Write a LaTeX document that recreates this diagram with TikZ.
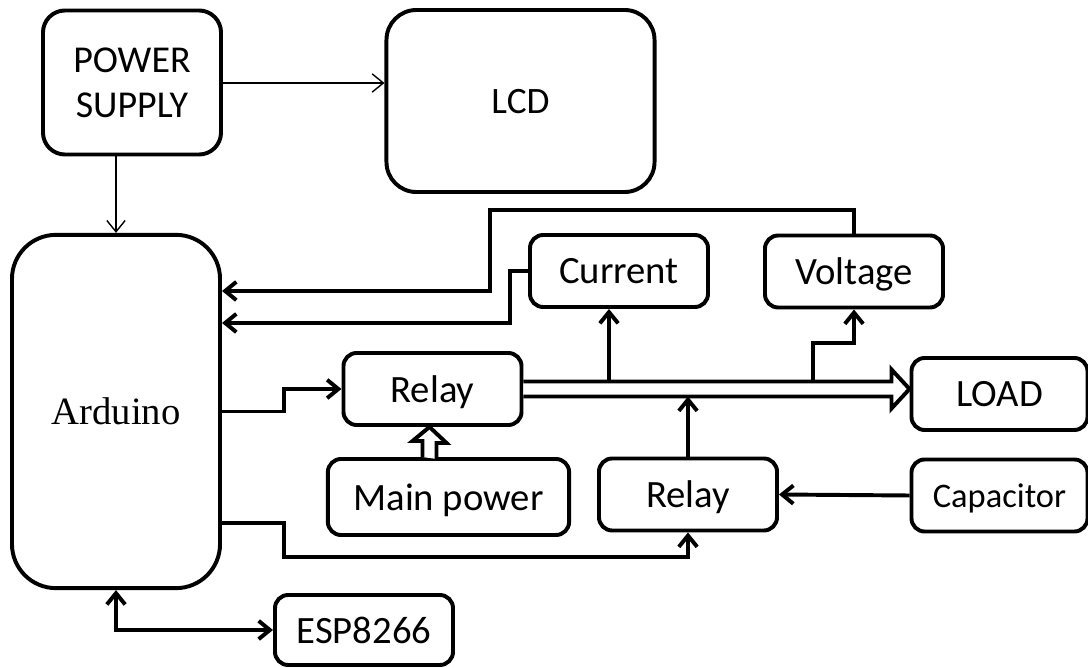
\documentclass[tikz,border=0pt]{standalone}
\usepackage{fontspec}
\setmainfont{Carlito}
\newfontfamily\serifblock{Liberation Serif}
\usetikzlibrary{arrows.meta,positioning,calc}

\begin{document}
\begin{tikzpicture}[x=0.025cm, y=-0.025cm, line join=miter,
    >={Straight Barb[length=8pt,width=13pt]},
    block/.style={rectangle, draw, line width=2.8pt, inner sep=0pt, rounded corners=0.33cm, text depth=0pt,
        minimum width=4.45cm, minimum height=1.8cm, align=center, font=\fontsize{27.5}{32}\selectfont},
    link/.style={->, line width=2.8pt},
    feed/.style={->, line width=1pt},
    hollow/.style={line width=2.8pt, fill=white}]
    \useasboundingbox (0,0) rectangle (1088,668);

    \node[block, rounded corners=0.55cm, minimum height=3.6cm, font=\fontsize{27}{32}\selectfont] (ps) at (132,82.5) {POWER\\SUPPLY};
    \node[block, rounded corners=0.75cm, minimum width=6.7cm, minimum height=4.55cm, font=\fontsize{26.5}{30}\selectfont] (lcd) at (520.5,101) {LCD};
    \node[block, rounded corners=1.1cm, minimum width=5.2cm, minimum height=8.83cm, font=\serifblock\fontsize{27.5}{30}\selectfont] (arduino) at (116,411.5) {Arduino};
    \node[block] (current) at (619,271) {Current};
    \node[block] (voltage) at (854,271.5) {Voltage};
    \node[block] (relay1) at (432.5,389) {Relay};
    \node[block, minimum width=4.4cm] (load) at (999.5,394) {LOAD};
    \node[block, minimum width=6.03cm, minimum height=1.9cm] (mainpow) at (448.5,497) {Main power};
    \node[block] (relay2) at (688,494.5) {Relay};
    \node[block, minimum width=4.4cm, font=\fontsize{24.5}{28}\selectfont] (cap) at (999.5,495.5) {Capacitor};
    \node[block, minimum height=1.75cm] (esp) at (364,630) {ESP8266};

    \coordinate (bustop) at ($(relay1.east)+(0,-7.5)$);
    \coordinate (busbot) at ($(relay1.east)+(0,7.5)$);
    \coordinate (tapI) at (609,381.5);
    \coordinate (tapV) at (813,381.5);

    \draw[feed] (ps.east |- lcd.west) ++(0,-18) -- ($(lcd.west)+(0,-18)$);
    \draw[feed] (ps.south -| arduino.north) -- (arduino.north);

    \draw[hollow] (bustop) -- ($(load.west |- relay1.east)+(-18,-7.5)$) -- ++(0,-12)
        -- (load.west |- relay1.east) -- ++(-18,19.5) -- ++(0,-12) -- (busbot);
    \draw[hollow] ($(relay1.south |- mainpow.north)+(-10,0)$) -- ++(0,-16) -- ++(-10,0)
        -- ($(relay1.south)+(-3,0)$) -- ++(17,16) -- ++(-10,0) -- ++(0,16);

    \draw[link] (tapI) -- (tapI |- current.south);
    \draw[link] (tapV) -- ++(0,-38.5) -| (voltage.south);
    \draw[link] (relay2.north) -- (relay2.north |- busbot);
    \draw[link] (cap.west) -- (relay2.east);
    \draw[link] (voltage.north) |- (490,210) |- ($(arduino.east)+(0,-120.5)$);
    \draw[link] (current.west) -| (510,323) -- ($(arduino.east)+(0,-88.5)$);
    \draw[link] (arduino.east) -- ++(62,0) |- (relay1.west);
    \draw[link] ($(arduino.east)+(0,111.5)$) -- ++(62,0) |- (relay2.south |- 0,557) -- (relay2.south);
    \draw[link, <->] (arduino.south) |- (esp.west);
\end{tikzpicture}
\end{document}
